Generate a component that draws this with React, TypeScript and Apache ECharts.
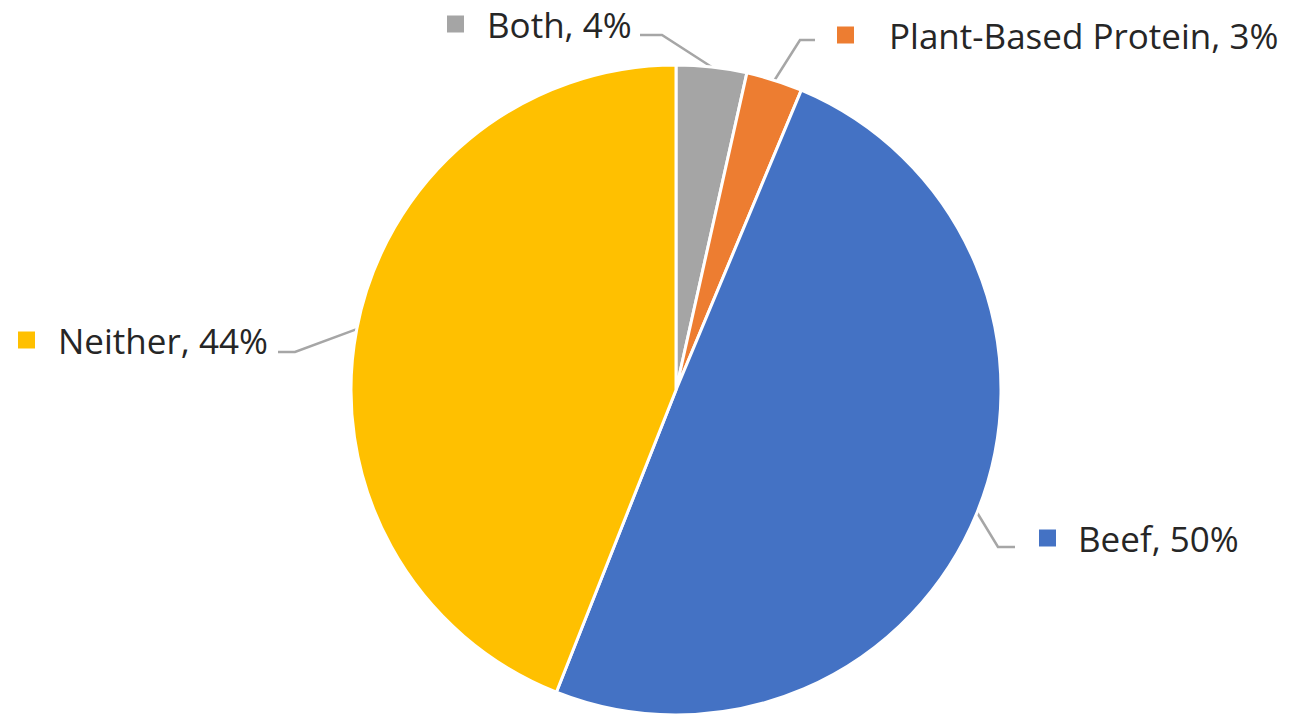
import React, { useEffect, useRef } from "react";
import * as echarts from "echarts";

const categories = ["Both", "Plant-Based Protein", "Beef", "Neither"];
const values = [3.5, 2.8, 49.7, 44.0];
const percentLabels = ["4%", "3%", "50%", "44%"];
const colors = ["#A5A5A5", "#ED7D31", "#4472C4", "#FFC000"];

// label placement (styling): left x of label, vertical center y, elbow & end of leader line
const labelX = [447, 837, 1039, 18];
const labelY = [24, 35, 538, 340];
const gaps = [23, 35, 22, 23];
const elbows = [[662, 35], [800, 40], [998, 547], [295, 352]];
const ends = [[640, 35], [815, 40], [1015, 547], [278, 352]];

export default function App() {
  const ref = useRef<HTMLDivElement>(null);
  useEffect(() => {
    const chart = echarts.init(ref.current!, null, { renderer: "svg" });
    const data = categories.map((name, i) => ({
      name,
      value: values[i],
      itemStyle: { color: colors[i] },
      label: {
        formatter: `{sq${i}|}{g${i}|}{t|${name}, ${percentLabels[i]}}`,
      },
    }));
    const rich: any = {
      t: { fontSize: 35, fontFamily: "Open Sans", color: "#262626", lineHeight: 40 },
    };
    colors.forEach((c, i) => {
      rich["sq" + i] = { width: 17, height: 17, backgroundColor: c, verticalAlign: "middle" };
      rich["g" + i] = { width: gaps[i], height: 1 };
    });
    chart.setOption({
      animation: false,
      backgroundColor: "#ffffff",
      series: [
        {
          type: "pie",
          center: [676, 390],
          radius: 325,
          startAngle: 90,
          clockwise: true,
          avoidLabelOverlap: false,
          itemStyle: { borderColor: "#ffffff", borderWidth: 3 },
          label: { show: true, position: "outside", rich },
          labelLine: { show: true, length: 20, length2: 20, lineStyle: { color: "#A6A6A6", width: 2.5 } },
          labelLayout: (params: any) => {
            const i = params.dataIndex;
            const start = params.labelLinePoints ? params.labelLinePoints[0] : elbows[i];
            return {
              x: labelX[i],
              y: labelY[i],
              align: "left",
              verticalAlign: "middle",
              labelLinePoints: [start, elbows[i], ends[i]],
            };
          },
          emphasis: { disabled: true },
          data,
        },
      ],
    });
    return () => chart.dispose();
  }, []);
  return (
    <div
      ref={ref}
      style={{ position: "fixed", left: 0, top: 0, width: 1289, height: 715 }}
    />
  );
}
